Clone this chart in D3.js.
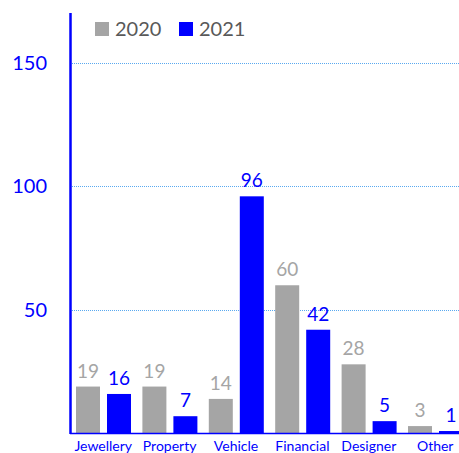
<!DOCTYPE html>
<html><head><meta charset="utf-8">
<script src="https://cdn.jsdelivr.net/npm/d3@7"></script>
<style>body{margin:0;background:#fff}svg{display:block}</style>
</head><body>
<svg id="c" width="459" height="453"></svg>
<script>
const categories = ["Jewellery","Property","Vehicle","Financial","Designer","Other"];
const series = ["2020","2021"];
const values2020 = [19,19,14,60,28,3];
const values2021 = [16,7,96,42,5,1];
const yTicks = [50,100,150];
const colors = {"2020":"#a5a5a5","2021":"#0000ff"};
const labelColors = {"2020":"#a5a5a5","2021":"#0000ff"};

const svg = d3.select("#c");
const font = "Lato, 'Open Sans', sans-serif";
const x0 = d3.scaleBand().domain(categories).range([70, 468.4]).padding(0);
const x1 = d3.scaleBand().domain(series).range([6, 61]).paddingInner(7/31).paddingOuter(0);
const y = d3.scaleLinear().domain([0,170]).range([433.5, 13.5]);

// gridlines
svg.append("g").selectAll("line").data(yTicks).join("line")
  .attr("x1",72).attr("x2",459).attr("y1",d=>Math.round(y(d))+0.5).attr("y2",d=>Math.round(y(d))+0.5)
  .attr("stroke","#5aa9f0").attr("stroke-width",1).attr("stroke-dasharray","1,1");

// y axis
const ya = d3.axisLeft(y).tickValues(yTicks).tickSize(0).tickPadding(23);
const yg = svg.append("g").attr("transform","translate(70,0)").call(ya);
yg.select(".domain").remove();
yg.selectAll("text").attr("fill","#0000ff").style("font-family",font).style("font-size","20px");

const rows = categories.map((c,i)=>({cat:c, vals:[{s:"2020",v:values2020[i]},{s:"2021",v:values2021[i]}]}));
const g = svg.append("g");
const grp = g.selectAll("g").data(rows).join("g").attr("transform",d=>`translate(${x0(d.cat)},0)`);
grp.selectAll("rect").data(d=>d.vals).join("rect")
  .attr("x",d=>x1(d.s)).attr("width",x1.bandwidth())
  .attr("y",d=>y(d.v)).attr("height",d=>y(0)-y(d.v))
  .attr("fill",d=>colors[d.s]);
grp.selectAll("text").data(d=>d.vals).join("text")
  .attr("x",d=>x1(d.s)+x1.bandwidth()/2).attr("y",d=>y(d.v)-9)
  .attr("text-anchor","middle").attr("fill",d=>labelColors[d.s])
  .style("font-family",font).style("font-size","19px").text(d=>d.v);

// baseline
svg.append("line").attr("x1",70).attr("x2",459).attr("y1",y(0)).attr("y2",y(0))
  .attr("stroke","#0000ff").attr("stroke-width",1.5);
// axis line
svg.append("line").attr("x1",70.5).attr("x2",70.5).attr("y1",13).attr("y2",434)
  .attr("stroke","#0000ff").attr("stroke-width",2.5);

// x labels
const xa = d3.axisBottom(x0).tickSize(0).tickPadding(8);
const xg = svg.append("g").attr("transform",`translate(0,${y(0)})`).call(xa);
xg.select(".domain").remove();
xg.selectAll("text").attr("fill","#0000ff").style("font-family",font).style("font-size","14px");

// legend
const lg = svg.append("g");
const lx = [95,179];
series.forEach((s,i)=>{
  lg.append("rect").attr("x",lx[i]).attr("y",22).attr("width",14).attr("height",14).attr("fill",colors[s]);
  lg.append("text").attr("x",lx[i]+20).attr("y",36).attr("fill","#595959")
    .style("font-family",font).style("font-size","20px").text(s);
});
</script>
</body></html>
